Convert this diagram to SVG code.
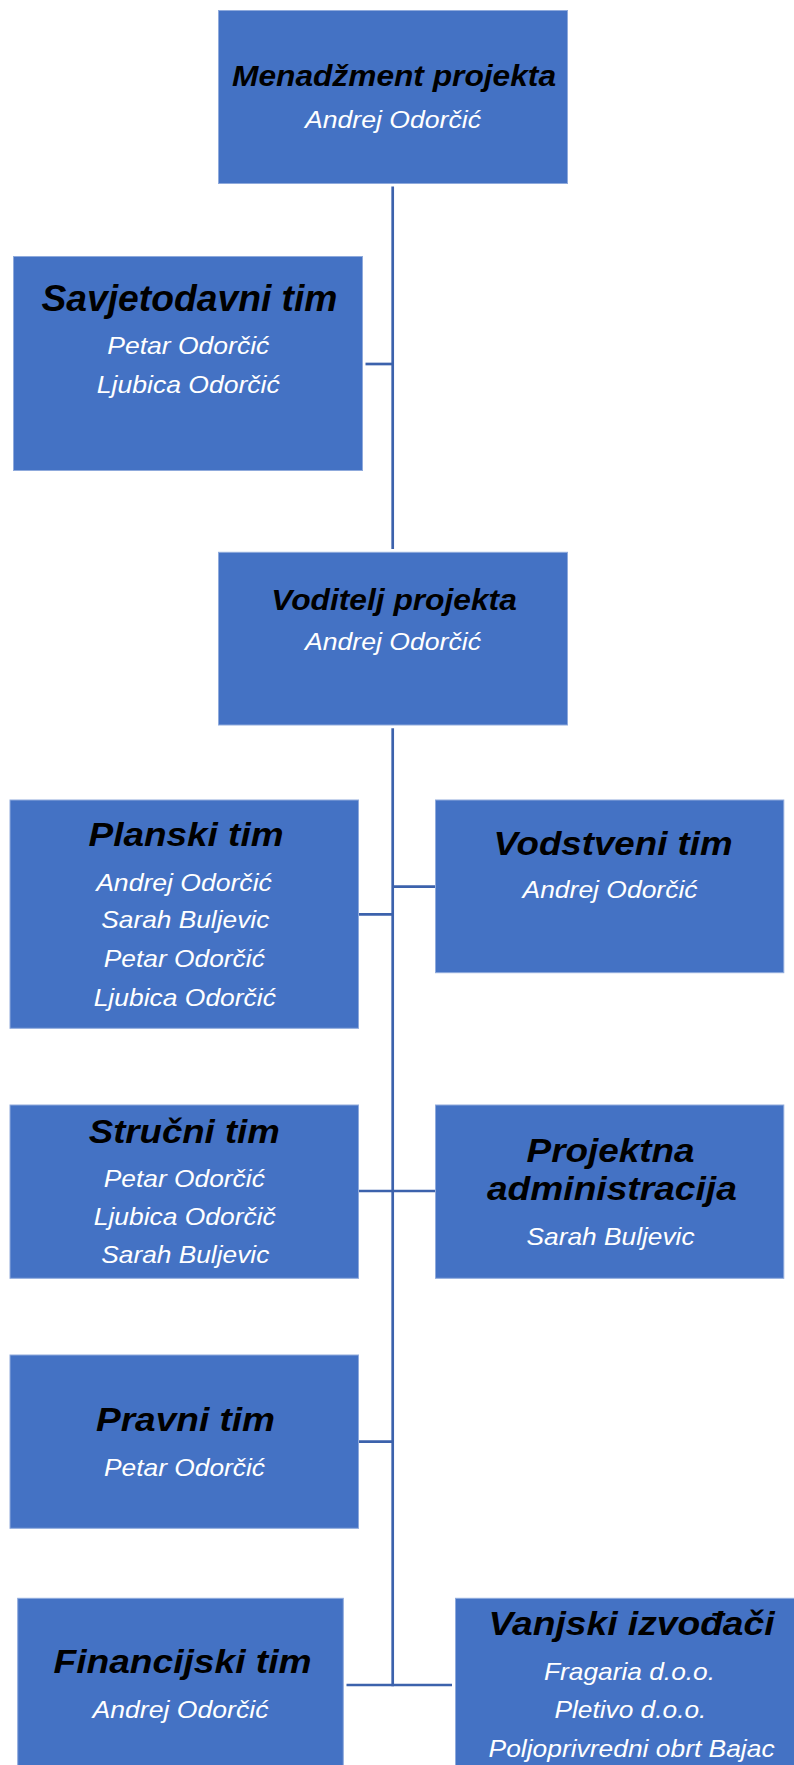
<svg xmlns="http://www.w3.org/2000/svg" width="794" height="1765" viewBox="0 0 794 1765">
<style>
.box{fill:#4472C4;stroke:#8FAADC;stroke-width:1}
.t{font-family:"Liberation Sans",Arial,sans-serif;font-weight:bold;font-style:italic;fill:#000;text-anchor:middle}
.n{font-family:"Liberation Sans",Arial,sans-serif;font-style:italic;fill:#fff;text-anchor:middle;font-size:24px}
.ln{stroke:#3C62AC;stroke-width:2.7;fill:none}
</style>
<rect width="794" height="1765" fill="#fff"/>
<g id="connectors">
<line class="ln" x1="392.7" y1="186.5" x2="392.7" y2="549"/>
<line class="ln" x1="392.7" y1="728.3" x2="392.7" y2="1686.3"/>
<line class="ln" x1="365.5" y1="364" x2="392.7" y2="364"/>
<line class="ln" x1="358.5" y1="914.3" x2="392.7" y2="914.3"/>
<line class="ln" x1="392.7" y1="886.7" x2="435" y2="886.7"/>
<line class="ln" x1="358.5" y1="1191" x2="435" y2="1191"/>
<line class="ln" x1="358.5" y1="1441.7" x2="392.7" y2="1441.7"/>
<line class="ln" x1="346.5" y1="1685" x2="452" y2="1685"/>
</g>
<g id="menadzment">
<rect class="box" x="218.5" y="10.5" width="349" height="173"/>
<text class="t" x="394" y="86" font-size="29" textLength="324" lengthAdjust="spacingAndGlyphs">Menadžment projekta</text>
<text class="n" x="393" y="128.3" font-size="25" textLength="176" lengthAdjust="spacingAndGlyphs">Andrej Odorčić</text>
</g>
<g id="savjetodavni">
<rect class="box" x="13.5" y="256.5" width="349" height="214"/>
<text class="t" x="189.5" y="310.7" font-size="36" textLength="296" lengthAdjust="spacingAndGlyphs">Savjetodavni tim</text>
<text class="n" x="188.3" y="354" textLength="162" lengthAdjust="spacingAndGlyphs">Petar Odorčić</text>
<text class="n" x="188.3" y="393.3" textLength="183" lengthAdjust="spacingAndGlyphs">Ljubica Odorčić</text>
</g>
<g id="voditelj">
<rect class="box" x="218.5" y="552.3" width="349" height="172.7"/>
<text class="t" x="394" y="610" font-size="30" textLength="245.7" lengthAdjust="spacingAndGlyphs">Voditelj projekta</text>
<text class="n" x="393" y="650" font-size="25" textLength="176" lengthAdjust="spacingAndGlyphs">Andrej Odorčić</text>
</g>
<g id="planski">
<rect class="box" x="10" y="800" width="348.5" height="228.3"/>
<text class="t" x="186" y="845.7" font-size="34" textLength="195" lengthAdjust="spacingAndGlyphs">Planski tim</text>
<text class="n" x="184" y="890.7" textLength="175.7" lengthAdjust="spacingAndGlyphs">Andrej Odorčić</text>
<text class="n" x="185.3" y="928.3" textLength="168" lengthAdjust="spacingAndGlyphs">Sarah Buljevic</text>
<text class="n" x="184.3" y="967.3" textLength="161" lengthAdjust="spacingAndGlyphs">Petar Odorčić</text>
<text class="n" x="184.8" y="1006" textLength="182.3" lengthAdjust="spacingAndGlyphs">Ljubica Odorčić</text>
</g>
<g id="vodstveni">
<rect class="box" x="435.5" y="800" width="348.3" height="172.7"/>
<text class="t" x="613" y="855" font-size="34" textLength="239" lengthAdjust="spacingAndGlyphs">Vodstveni tim</text>
<text class="n" x="610" y="898.3" textLength="175" lengthAdjust="spacingAndGlyphs">Andrej Odorčić</text>
</g>
<g id="strucni">
<rect class="box" x="10" y="1105" width="348.5" height="173.3"/>
<text class="t" x="184.3" y="1143.3" font-size="32.5" textLength="191" lengthAdjust="spacingAndGlyphs">Stručni tim</text>
<text class="n" x="184.3" y="1186.7" textLength="161" lengthAdjust="spacingAndGlyphs">Petar Odorčić</text>
<text class="n" x="184.8" y="1225" textLength="182" lengthAdjust="spacingAndGlyphs">Ljubica Odorčič</text>
<text class="n" x="185.3" y="1263.3" textLength="168" lengthAdjust="spacingAndGlyphs">Sarah Buljevic</text>
</g>
<g id="projektna">
<rect class="box" x="435.5" y="1105" width="348.3" height="173.3"/>
<text class="t" x="610.6" y="1161.7" font-size="32.5" textLength="168" lengthAdjust="spacingAndGlyphs">Projektna</text>
<text class="t" x="611.9" y="1200" font-size="32.5" textLength="250" lengthAdjust="spacingAndGlyphs">administracija</text>
<text class="n" x="610.6" y="1245" textLength="168" lengthAdjust="spacingAndGlyphs">Sarah Buljevic</text>
</g>
<g id="pravni">
<rect class="box" x="10" y="1355" width="348.5" height="173.3"/>
<text class="t" x="185.5" y="1430.7" font-size="33" textLength="179" lengthAdjust="spacingAndGlyphs">Pravni tim</text>
<text class="n" x="184.5" y="1476" textLength="161" lengthAdjust="spacingAndGlyphs">Petar Odorčić</text>
</g>
<g id="financijski">
<rect class="box" x="17.7" y="1598.3" width="325.6" height="180"/>
<text class="t" x="182.5" y="1673.3" font-size="34" textLength="258" lengthAdjust="spacingAndGlyphs">Financijski tim</text>
<text class="n" x="180.5" y="1718.3" font-size="25" textLength="176" lengthAdjust="spacingAndGlyphs">Andrej Odorčić</text>
</g>
<g id="vanjski">
<rect class="box" x="455.5" y="1598.3" width="352" height="180"/>
<text class="t" x="631.6" y="1635" font-size="32.5" textLength="286" lengthAdjust="spacingAndGlyphs">Vanjski izvođači</text>
<text class="n" x="629.5" y="1680" textLength="171" lengthAdjust="spacingAndGlyphs">Fragaria d.o.o.</text>
<text class="n" x="630.4" y="1718.3" textLength="152" lengthAdjust="spacingAndGlyphs">Pletivo d.o.o.</text>
<text class="n" x="631.6" y="1756.7" textLength="286" lengthAdjust="spacingAndGlyphs">Poljoprivredni obrt Bajac</text>
</g>
</svg>
